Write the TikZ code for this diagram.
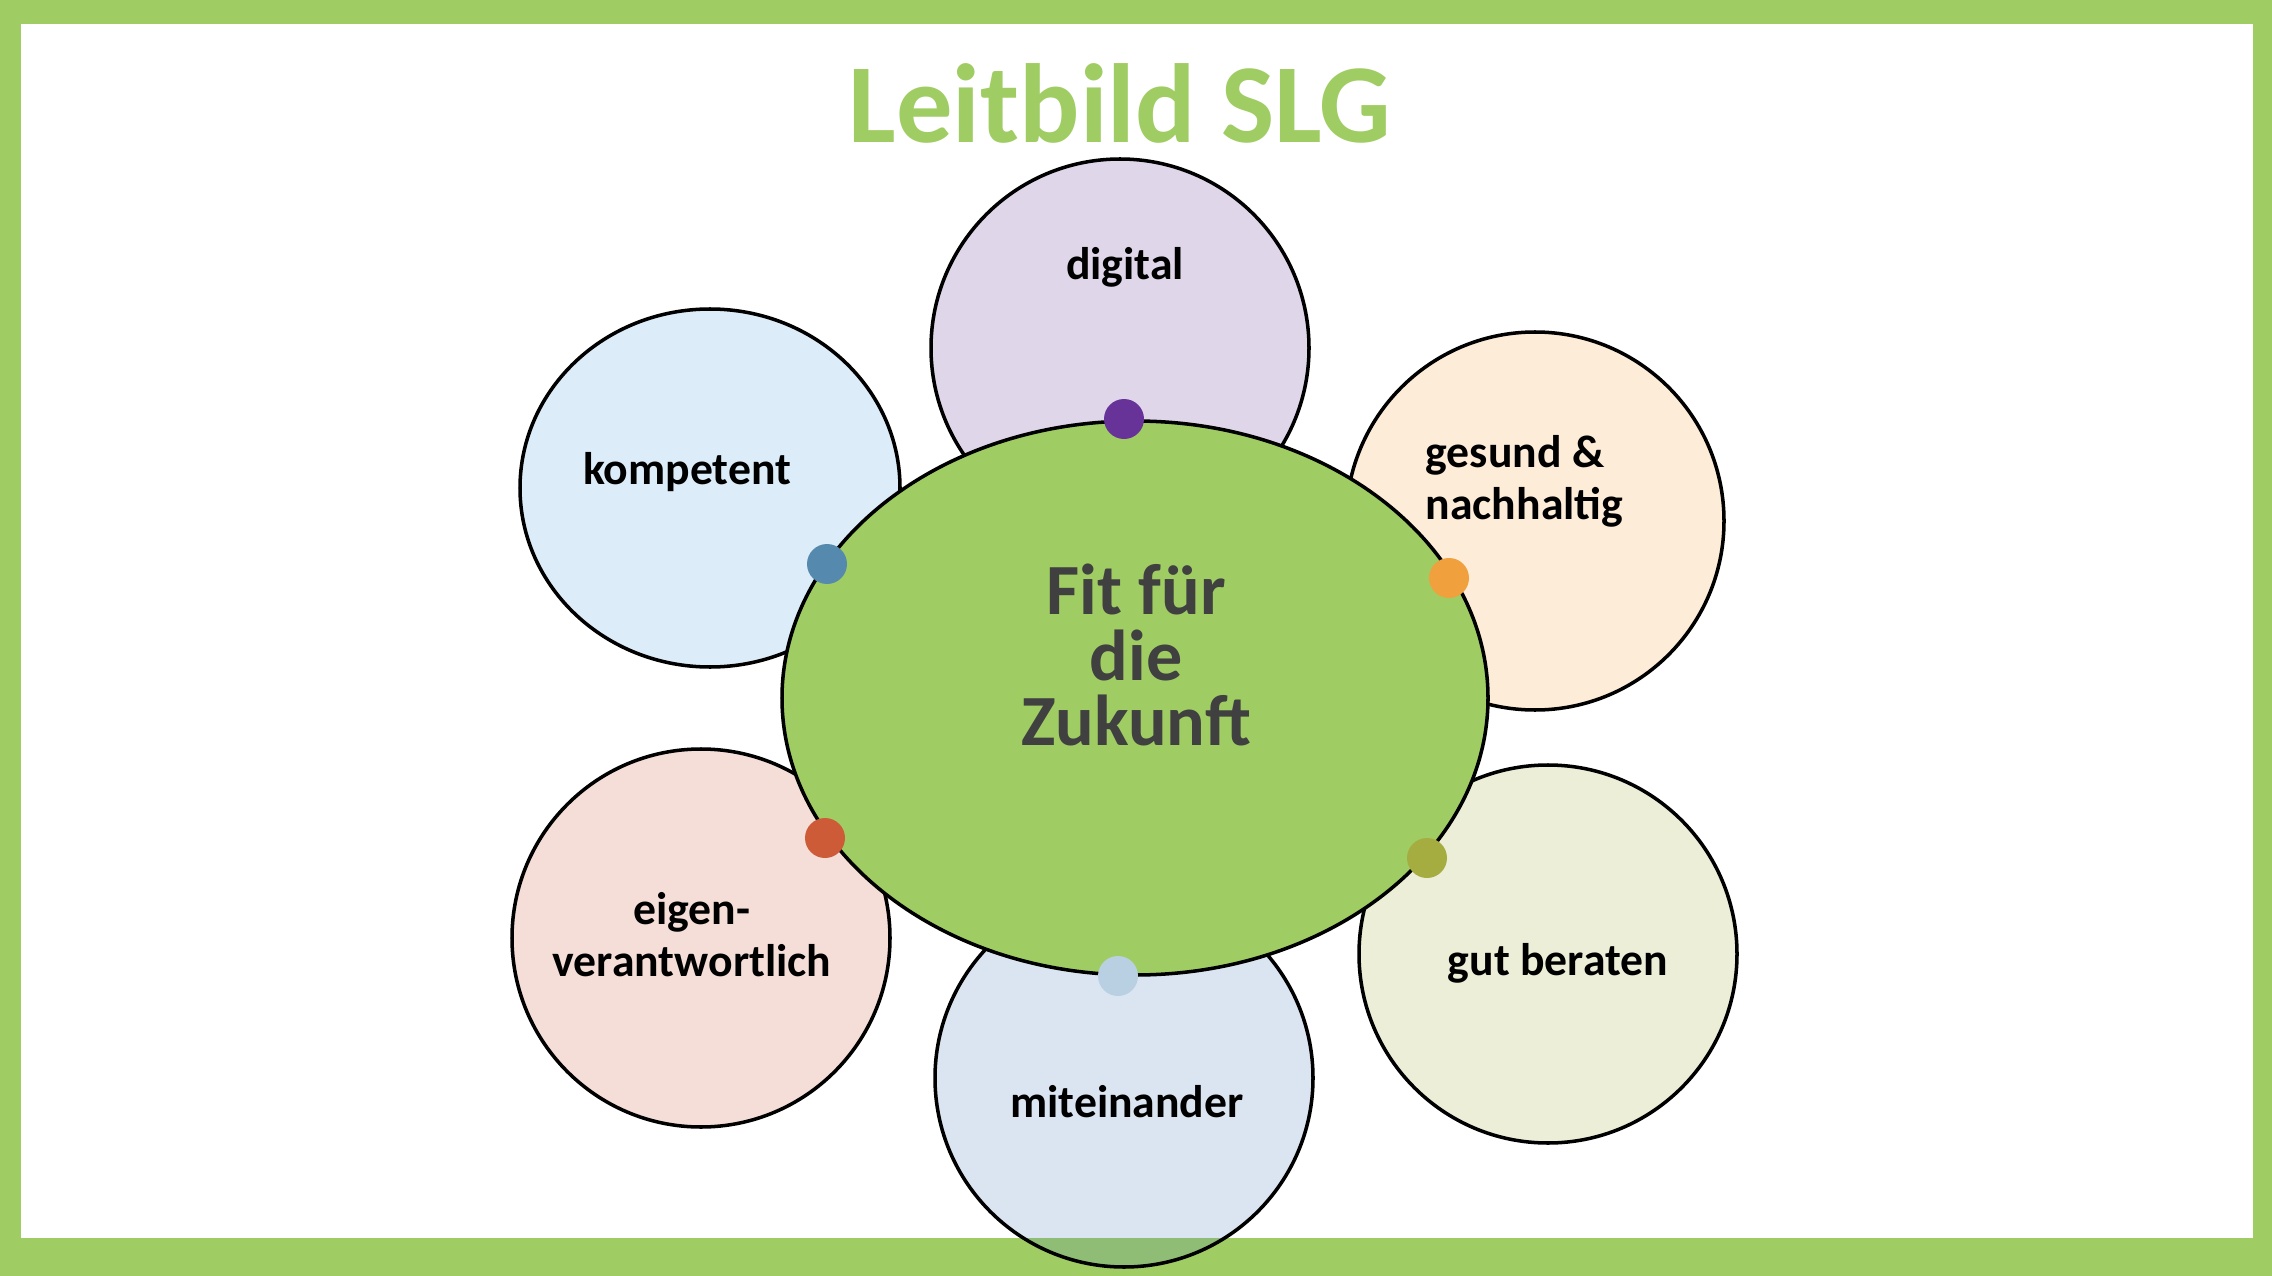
\documentclass[tikz,border=0pt]{standalone}
\usepackage{fontspec}
\setmainfont{Carlito}

\definecolor{slggreen}{RGB}{160,205,99}
\definecolor{zukunftgray}{RGB}{64,64,64}
\definecolor{digitalc}{RGB}{103,51,153}
\definecolor{gesundc}{RGB}{240,160,60}
\definecolor{beratenc}{RGB}{165,173,64}
\definecolor{miteinanderc}{RGB}{79,129,189}
\definecolor{eigenc}{RGB}{205,91,55}
\definecolor{kompetentc}{RGB}{80,160,220}
\definecolor{miteinanderdot}{RGB}{185,208,227}
\definecolor{kompetentdot}{RGB}{85,138,174}

\begin{document}
\begin{tikzpicture}[x=0.01cm, y=-0.01cm,
    petal/.style={draw=black, line width=1pt, fill opacity=0.2},
    petaltext/.style={inner sep=0pt, font=\fontsize{13}{14.8}\selectfont\bfseries}]

    % cadre vert
    \useasboundingbox (0, 0) rectangle (2272, 1276);
    \fill[color=slggreen] (0, 0) rectangle (2272, 1276);
    \fill[color=white] (21, 24) rectangle (2253, 1238);

    \draw[petal, fill=digitalc] (1120, 348) circle (189);
    \draw[petal, fill=gesundc] (1535, 521) circle (189);
    \draw[petal, fill=beratenc] (1548, 954) circle (189);
    \draw[petal, fill=miteinanderc] (1124, 1078) circle (189);
    \draw[petal, fill=eigenc] (701, 938) circle (189);
    \draw[petal, fill=kompetentc] (710, 488) ellipse (190 and 179);

    \draw[line width=1pt, fill=slggreen] (1135, 698) ellipse (353 and 277);

    \fill[color=digitalc] (1124, 419) circle (20);
    \fill[color=gesundc] (1449, 578) circle (20);
    \fill[color=beratenc] (1427, 858) circle (20);
    \fill[color=miteinanderdot] (1118, 976) circle (20);
    \fill[color=eigenc] (825, 838) circle (20);
    \fill[color=kompetentdot] (827, 564) circle (20);

    \node[anchor=base, inner sep=0pt, text=slggreen, font=\fontsize{32}{38}\selectfont\bfseries] (title) at (1120, 143) {Leitbild SLG};

    \node[inner sep=0pt, align=center, text=zukunftgray, font=\fontsize{20.5}{18.5}\selectfont\bfseries] (zukunft) at (1136, 655) {Fit für\\die\\Zukunft};

    \node[petaltext, anchor=base] (digital) at (1125, 279) {digital};
    \node[petaltext, anchor=west, align=left] (gesund) at (1425, 481) {gesund \&\\nachhaltig};
    \node[petaltext, anchor=base] (beraten) at (1558, 975) {gut beraten};
    \node[petaltext, anchor=base] (miteinander) at (1127, 1117) {miteinander};
    \node[petaltext, align=center] (eigen) at (692, 935) {eigen-\\verantwortlich};
    \node[petaltext, anchor=base] (kompetent) at (687, 485) {kompetent};

\end{tikzpicture}
\end{document}
